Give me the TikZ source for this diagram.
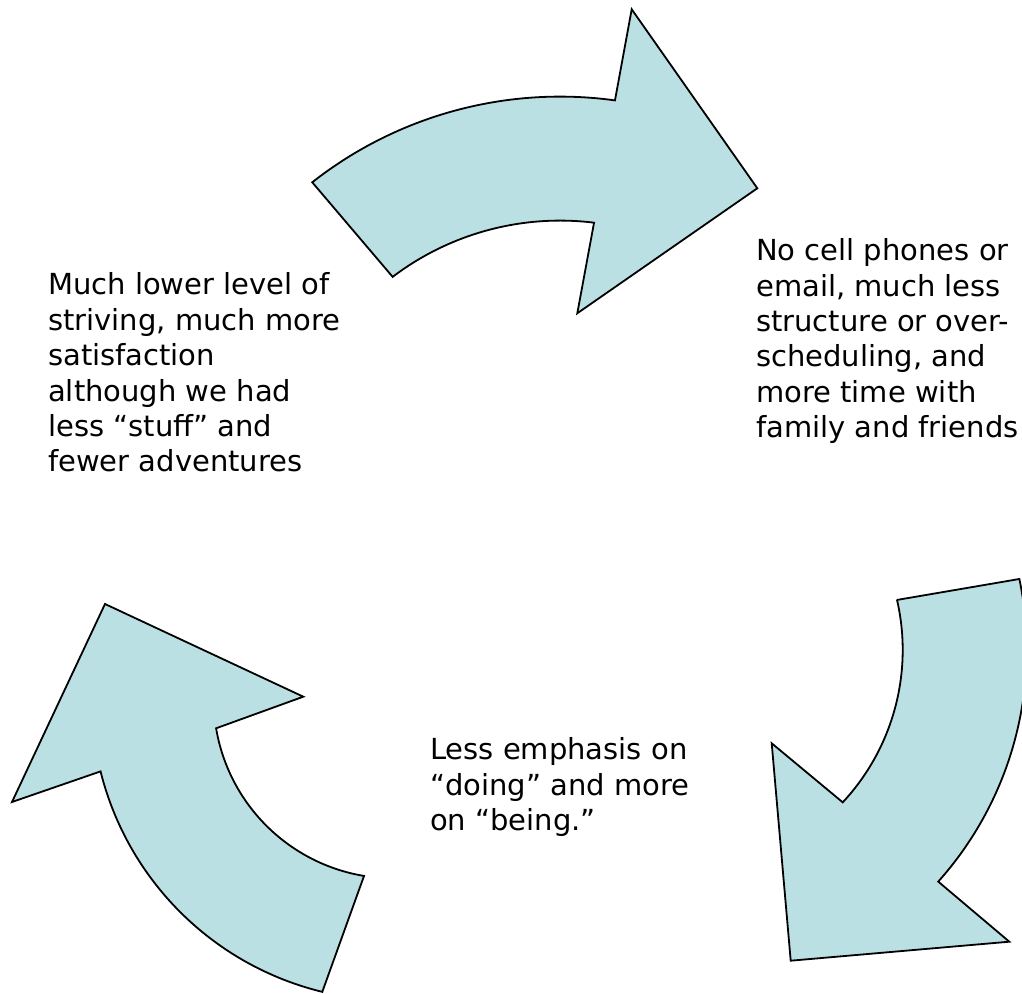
\documentclass[tikz,border=0pt]{standalone}
\usepackage{fontspec}
\setmainfont{DejaVu Sans}
\usetikzlibrary{calc}
\definecolor{arrowfill}{RGB}{187,224,227}
\tikzset{
  bentarrow/.style={fill=arrowfill, draw=black, line width=1.8pt, line join=miter},
  caption/.style={anchor=base west, inner sep=0pt, align=left,
    font=\fontsize{29pt}{35.4pt}\selectfont}
}
\begin{document}
\begin{tikzpicture}[x=1pt, y=1pt]
  \useasboundingbox (0,0) rectangle (1022,993);
  \clip (0,0) rectangle (1022,993);

  % centres of the three curved arrows
  \coordinate (c1) at (560,495.4);
  \coordinate (c2) at (679.2,343);
  \coordinate (c3) at (393.6,294.6);

  % top arrow, pointing right
  \path[bentarrow] ($(c1)+(128.16:401)$) arc[start angle=128.16, end angle=82.12, radius=401]
    -- (631.7,983.7) -- (757.3,804.7) -- (577.3,679.7)
    -- ($(c1)+(82.94:277)$) arc[start angle=82.94, end angle=127.17, radius=277]
    -- cycle;

  % right arrow, pointing down
  \path[bentarrow] (896.7,393) -- ($(c2)+(11.79:347.5)$)
    arc[start angle=11.79, end angle=-41.8, radius=347.5]
    -- (1009.3,51.3) -- (790.7,32.3) -- (771.7,249.7)
    -- ($(c2)+(-42.97:223.5)$) arc[start angle=-42.97, end angle=12.95, radius=223.5]
    -- cycle;

  % left arrow, pointing up
  \path[bentarrow] (105,389) -- (303.3,296.3)
    -- ($(c3)+(189.56:180)$) arc[start angle=189.56, end angle=260.54, radius=180]
    -- ($(c3)+(256.34:302)$) arc[start angle=256.34, end angle=193.99, radius=302]
    -- (12,191) -- cycle;

  % captions, placed by the baseline of their last line
  \node[caption] (left) at (48,521) {Much lower level of\\striving, much more\\satisfaction\\although we had\\less “stuff” and\\fewer adventures};
  \node[caption] (right) at (756,555.3) {No cell phones or\\email, much less\\structure or over-\\scheduling, and\\more time with\\family and friends};
  \node[caption] (bottom) at (430,162.2) {Less emphasis on\\“doing” and more\\on “being.”};
\end{tikzpicture}
\end{document}
